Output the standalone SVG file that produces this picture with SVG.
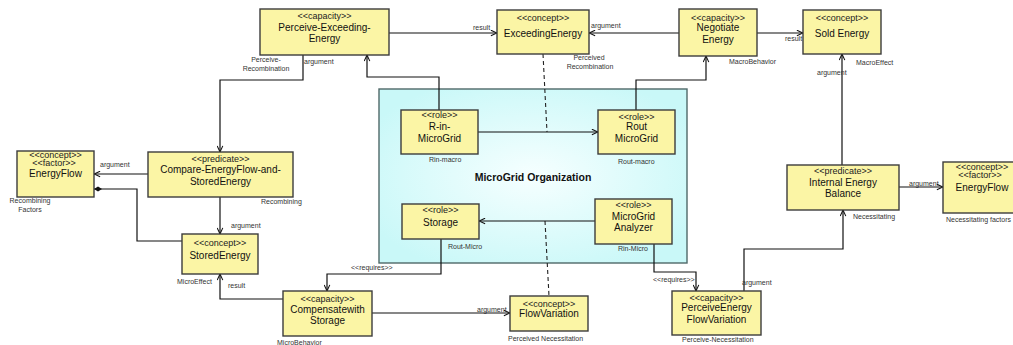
<svg xmlns="http://www.w3.org/2000/svg" width="1013" height="345" viewBox="0 0 1013 345">
<style>
.box{fill:#fbf5a5;stroke:#3c3c3c;stroke-width:1.4}
.st{font-family:"Liberation Sans",Arial,sans-serif;font-size:9px;fill:#222;text-anchor:middle}
.nm{font-family:"Liberation Sans",Arial,sans-serif;font-size:10px;fill:#111;text-anchor:middle}
.lb{font-family:"Liberation Sans",Arial,sans-serif;font-size:7px;fill:#333}
.lc{font-family:"Liberation Sans",Arial,sans-serif;font-size:7px;fill:#333;text-anchor:middle}
.ln{fill:none;stroke:#111;stroke-width:1.2}
.ar{marker-end:url(#arr)}
.dash{fill:none;stroke:#222;stroke-width:1.1;stroke-dasharray:4,3}
</style>
<defs>
<marker id="arr" viewBox="0 0 8 8" refX="8" refY="4" markerWidth="7" markerHeight="7" markerUnits="userSpaceOnUse" orient="auto">
<path d="M1,0.8 L8,4 L1,7.2" fill="none" stroke="#111" stroke-width="1.2"/>
</marker>
<marker id="dia" viewBox="0 0 10 6" refX="0" refY="3" markerWidth="8" markerHeight="6" markerUnits="userSpaceOnUse" orient="auto">
<path d="M0,3 L5,0 L10,3 L5,6 Z" fill="#111"/>
</marker>
<radialGradient id="cyan" cx="50%" cy="50%" r="60%">
<stop offset="0" stop-color="#f6ffff"/>
<stop offset="1" stop-color="#c9f8f8"/>
</radialGradient>
</defs>

<g id="org">
<rect x="379" y="89" width="308" height="174" fill="url(#cyan)" stroke="#4f6868" stroke-width="1.4"/>
<text x="533" y="180.5" font-family="Liberation Sans,Arial,sans-serif" font-size="10.5" font-weight="bold" fill="#111" text-anchor="middle">MicroGrid Organization</text>
</g>

<g id="connectors">
<path class="ln ar" d="M303,55 V80 H220 V152"/>
<path class="ln ar" d="M148,174 H94"/>
<path class="ln" d="M94,189 H137 V241 H182" marker-start="url(#dia)"/>
<path class="ln ar" d="M220,197 V234"/>
<path class="ln ar" d="M283,299 H220 V274"/>
<path class="ln ar" d="M441,239 V274 H327 V291"/>
<path class="ln ar" d="M372,313 H510"/>
<path class="dash" d="M545,221 L549,296"/>
<path class="ln ar" d="M389,33 H497"/>
<path class="ln ar" d="M679,33 H589"/>
<path class="ln ar" d="M757,33 H803"/>
<path class="dash" d="M543,54 L547,132"/>
<path class="ln ar" d="M439,110 V77 H367 V55"/>
<path class="ln ar" d="M636,110 V80 H706 V56"/>
<path class="ln ar" d="M478,132 H598"/>
<path class="ln ar" d="M595,221 H479"/>
<path class="ln ar" d="M654,244 V272 H696 V291"/>
<path class="ln ar" d="M744,291 V249 H843 V210"/>
<path class="ln ar" d="M842,165 V54"/>
<path class="ln ar" d="M899,187 H943"/>

<text class="lc" x="266" y="61.5">Perceive-</text>
<text class="lc" x="266" y="70.5">Recombination</text>
<text class="lb" x="304" y="63.5">argument</text>
<text class="lb" x="473" y="29.5">result</text>
<text class="lb" x="591" y="27.5">argument</text>
<text class="lc" x="589" y="59.5">Perceived</text>
<text class="lc" x="590" y="68.5">Recombination</text>
<text class="lb" x="729" y="63.5">MacroBehavior</text>
<text class="lb" x="785" y="40.5">result</text>
<text class="lb" x="856" y="64.5">MacroEffect</text>
<text class="lb" x="817" y="74.5">argument</text>
<text class="lb" x="429" y="161.5">Rin-macro</text>
<text class="lb" x="618" y="163.5">Rout-macro</text>
<text class="lb" x="448" y="248.5">Rout-Micro</text>
<text class="lb" x="618" y="250.5">Rin-Micro</text>
<text class="lb" x="100" y="166.5">argument</text>
<text class="lc" x="30" y="202.5">Recombining</text>
<text class="lc" x="30" y="211.5">Factors</text>
<text class="lb" x="261" y="203.5">Recombining</text>
<text class="lb" x="231" y="227.5">argument</text>
<text class="lb" x="177" y="283.5">MicroEffect</text>
<text class="lb" x="228" y="287.5">result</text>
<text class="lb" x="351" y="269.5">&lt;&lt;requires&gt;&gt;</text>
<text class="lb" x="277" y="344.5">MicroBehavior</text>
<text class="lb" x="477" y="311.5">argument</text>
<text class="lb" x="508" y="340.5">Perceived Necessitation</text>
<text class="lb" x="653" y="281.5">&lt;&lt;requires&gt;&gt;</text>
<text class="lb" x="682" y="341.5">Perceive-Necessitation</text>
<text class="lb" x="742" y="284.5">argument</text>
<text class="lb" x="853" y="218.5">Necessitating</text>
<text class="lb" x="909" y="185.5">argument</text>
<text class="lb" x="946" y="221.5">Necessitating factors</text>
</g>

<g id="perceive-exceeding-energy">
<rect class="box" x="260" y="9" width="129" height="46"/>
<text class="st" x="324.5" y="19">&lt;&lt;capacity&gt;&gt;</text>
<text class="nm" x="324.5" y="30.5">Perceive-Exceeding-</text>
<text class="nm" x="324.5" y="42">Energy</text>
</g>
<g id="exceeding-energy">
<rect class="box" x="497" y="10" width="92" height="44"/>
<text class="st" x="543" y="21">&lt;&lt;concept&gt;&gt;</text>
<text class="nm" x="543" y="36.5">ExceedingEnergy</text>
</g>
<g id="negotiate-energy">
<rect class="box" x="679" y="9" width="78" height="47"/>
<text class="st" x="718" y="20.5">&lt;&lt;capacity&gt;&gt;</text>
<text class="nm" x="718" y="30.8">Negotiate</text>
<text class="nm" x="718" y="42.5">Energy</text>
</g>
<g id="sold-energy">
<rect class="box" x="803" y="10" width="78" height="44"/>
<text class="st" x="842" y="21">&lt;&lt;concept&gt;&gt;</text>
<text class="nm" x="842" y="36.5">Sold Energy</text>
</g>
<g id="energyflow-left">
<rect class="box" x="17" y="151" width="77" height="46"/>
<text class="st" x="55.5" y="158">&lt;&lt;concept&gt;&gt;</text>
<text class="st" x="54" y="166">&lt;&lt;factor&gt;&gt;</text>
<text class="nm" x="55.5" y="176.5">EnergyFlow</text>
</g>
<g id="compare">
<rect class="box" x="148" y="152" width="145" height="45"/>
<text class="st" x="220.5" y="162">&lt;&lt;predicate&gt;&gt;</text>
<text class="nm" x="220.5" y="172.8">Compare-EnergyFlow-and-</text>
<text class="nm" x="220.5" y="184.5">StoredEnergy</text>
</g>
<g id="stored-energy">
<rect class="box" x="182" y="234" width="76" height="40"/>
<text class="st" x="220" y="246">&lt;&lt;concept&gt;&gt;</text>
<text class="nm" x="220" y="258.5">StoredEnergy</text>
</g>
<g id="compensate-storage">
<rect class="box" x="283" y="291" width="89" height="45"/>
<text class="st" x="327.5" y="302">&lt;&lt;capacity&gt;&gt;</text>
<text class="nm" x="327.5" y="312.5">Compensatewith</text>
<text class="nm" x="327.5" y="324">Storage</text>
</g>
<g id="flow-variation">
<rect class="box" x="510" y="296" width="78" height="35"/>
<text class="st" x="549" y="307">&lt;&lt;concept&gt;&gt;</text>
<text class="nm" x="549" y="316.8">FlowVariation</text>
</g>
<g id="perceive-energy-flow-variation">
<rect class="box" x="672" y="291" width="89" height="44"/>
<text class="st" x="716.5" y="301">&lt;&lt;capacity&gt;&gt;</text>
<text class="nm" x="716.5" y="310.8">PerceiveEnergy</text>
<text class="nm" x="716.5" y="322.5">FlowVariation</text>
</g>
<g id="internal-energy-balance">
<rect class="box" x="787" y="165" width="112" height="45"/>
<text class="st" x="843" y="174">&lt;&lt;predicate&gt;&gt;</text>
<text class="nm" x="843" y="185.5">Internal Energy</text>
<text class="nm" x="843" y="196.8">Balance</text>
</g>
<g id="energyflow-right">
<rect class="box" x="943" y="162" width="77" height="51"/>
<text class="st" x="982" y="170">&lt;&lt;concept&gt;&gt;</text>
<text class="st" x="980" y="178">&lt;&lt;factor&gt;&gt;</text>
<text class="nm" x="982" y="190.5">EnergyFlow</text>
</g>
<g id="r-in-microgrid">
<rect class="box" x="401" y="110" width="77" height="44"/>
<text class="st" x="439.5" y="118">&lt;&lt;role&gt;&gt;</text>
<text class="nm" x="439.5" y="129.5">R-in-</text>
<text class="nm" x="439.5" y="141.5">MicroGrid</text>
</g>
<g id="rout-microgrid">
<rect class="box" x="598" y="110" width="77" height="44"/>
<text class="st" x="636.5" y="120">&lt;&lt;role&gt;&gt;</text>
<text class="nm" x="636.5" y="129.5">Rout</text>
<text class="nm" x="636.5" y="141.5">MicroGrid</text>
</g>
<g id="storage">
<rect class="box" x="402" y="204" width="77" height="35"/>
<text class="st" x="440.5" y="213">&lt;&lt;role&gt;&gt;</text>
<text class="nm" x="440.5" y="225.5">Storage</text>
</g>
<g id="microgrid-analyzer">
<rect class="box" x="595" y="199" width="77" height="45"/>
<text class="st" x="633.5" y="208">&lt;&lt;role&gt;&gt;</text>
<text class="nm" x="633.5" y="219.5">MicroGrid</text>
<text class="nm" x="633.5" y="230.5">Analyzer</text>
</g>
</svg>
